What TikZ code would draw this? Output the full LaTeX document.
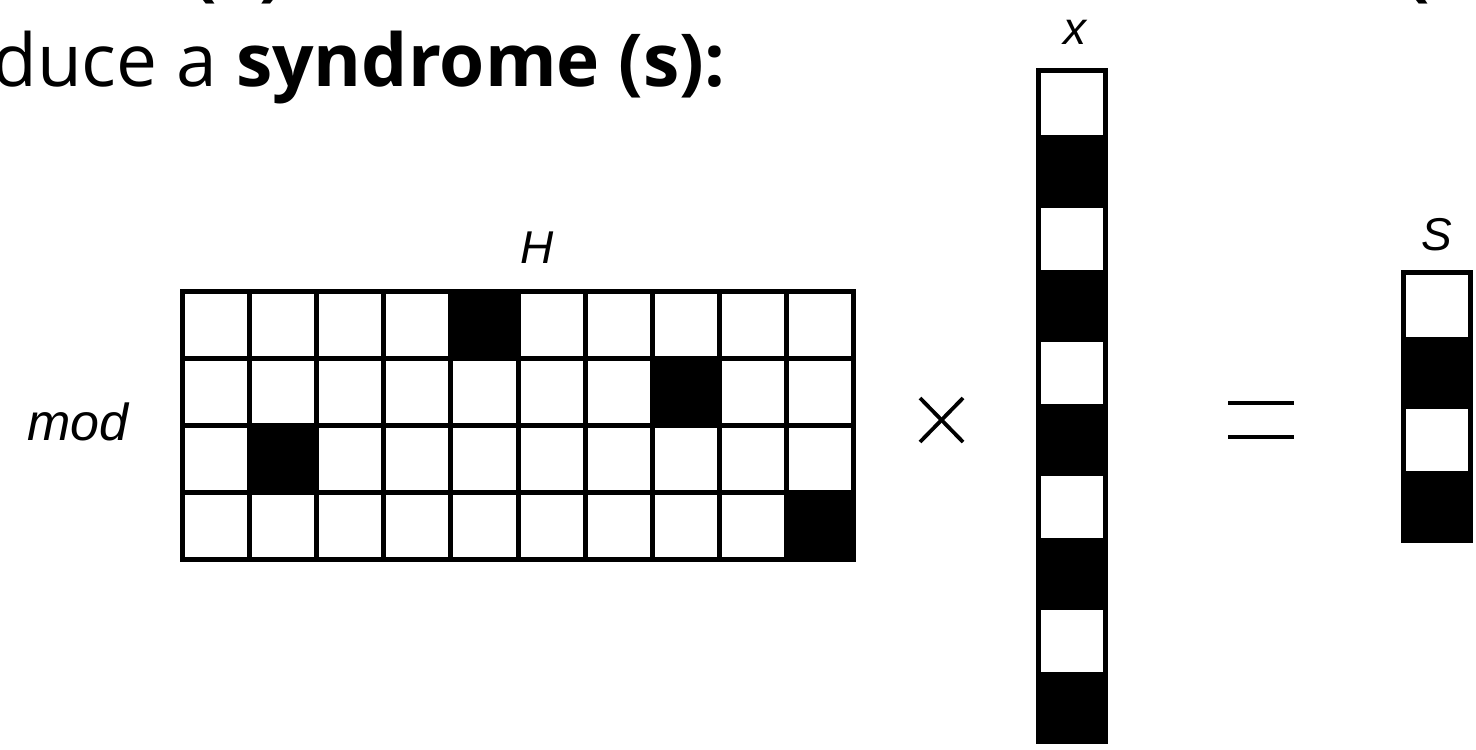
\documentclass[tikz,border=0pt]{standalone}
\usepackage{fontspec}
\setmainfont{Open Sans}
\newfontfamily\labfont{Liberation Sans}
\begin{document}
\begin{tikzpicture}[x=0.5pt,y=-0.5pt,
  title/.style={font=\fontsize{36.5}{44}\selectfont, inner sep=0pt, anchor=base west},
  lab/.style={font=\labfont\itshape\fontsize{23}{28}\selectfont, inner sep=0pt, anchor=base},
  frame/.style={fill=black},
  cellw/.style={fill=white},
  cellb/.style={fill=black},
  op/.style={line width=1.9pt}]
\useasboundingbox (0,0) rectangle (1476,749);
\fill[white] (0,0) rectangle (1476,749);

% title fragments
\node[title] (prev1) at (192,-7) {\bfseries (x)};
\node[title] (prev2) at (1405,-7) {\bfseries (};
\node[title] (title) at (-8,86.7) {duce a \textbf{syndrome (s):}};

% H matrix
\def\p{67.1}
\fill[frame] (180,289) rectangle ++(676,273.4);
\foreach \r in {0,...,3}
  \foreach \c in {0,...,9}
    \fill[cellw] ({180+5+\c*\p},{289+5+\r*\p}) rectangle ++(62.1,62.1);
\foreach \r/\c in {0/4,1/7,2/1,3/9}
  \fill[cellb] ({180+\c*\p},{289+\r*\p}) rectangle ++(72.1,72.1);

% x vector
\fill[frame] (1036,68.3) rectangle ++(72.1,676);
\foreach \r in {0,2,...,8}
  \fill[cellw] (1041,{68.3+5+\r*\p}) rectangle ++(62.1,62.1);

% s vector
\fill[frame] (1401,270) rectangle ++(72.1,273.4);
\foreach \r in {0,2}
  \fill[cellw] (1406,{270+5+\r*\p}) rectangle ++(62.1,62.1);

% labels
\node[lab] (Hlab) at (537,263) {H};
\node[lab] (xlab) at (1075,45) {x};
\node[lab] (slab) at (1437,250) {S};
\node[lab, anchor=base west, font=\labfont\itshape\fontsize{26}{31}\selectfont] (modlab) at (27,440) {mod};

% operators
\coordinate (t1) at (920,398); \coordinate (t2) at (963,442);
\coordinate (t3) at (920,442); \coordinate (t4) at (963,398);
\draw[op] (t1) -- (t2);
\draw[op] (t3) -- (t4);
\coordinate (e1) at (1228,403); \coordinate (e2) at (1294,403);
\coordinate (e3) at (1228,437); \coordinate (e4) at (1294,437);
\draw[op] (e1) -- (e2);
\draw[op] (e3) -- (e4);
\end{tikzpicture}
\end{document}
